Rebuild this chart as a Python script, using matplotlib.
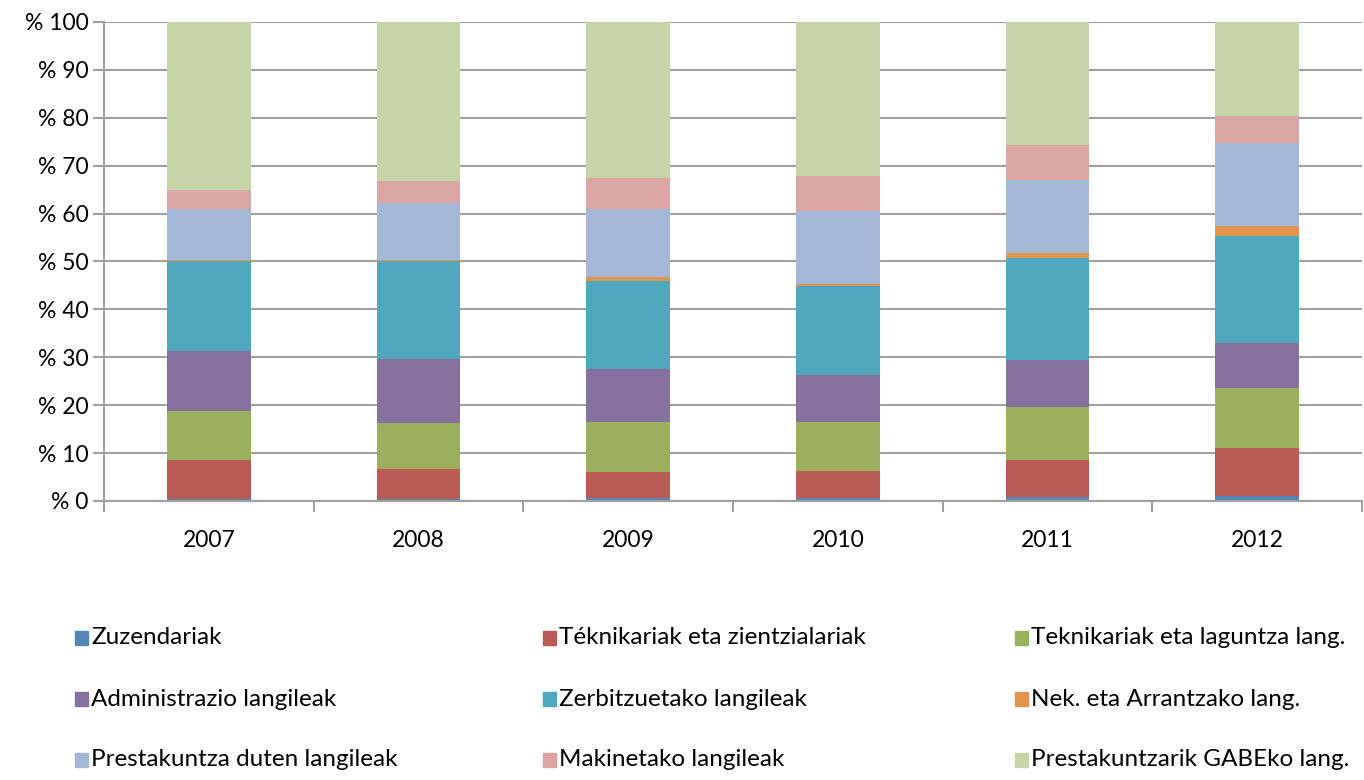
import numpy as np
import matplotlib.pyplot as plt
from matplotlib.patches import Rectangle

plt.rcParams['font.family'] = ['Lato', 'DejaVu Sans']

years = ['2007', '2008', '2009', '2010', '2011', '2012']

labels = ['Zuzendariak', 'Téknikariak eta zientzialariak', 'Teknikariak eta laguntza lang.',
          'Administrazio langileak', 'Zerbitzuetako langileak', 'Nek. eta Arrantzako lang.',
          'Prestakuntza duten langileak', 'Makinetako langileak', 'Prestakuntzarik GABEko lang.']

# percentage share per group
zuzendariak = [0.35, 0.4, 0.55, 0.7, 0.8, 1.0]
teknikariak_zient = [8.2, 6.3, 5.5, 5.56, 7.75, 10.0]
teknikariak_lag = [10.25, 9.6, 10.45, 10.24, 11.05, 12.55]
administrazio = [12.5, 13.3, 11.0, 9.8, 9.9, 9.4]
zerbitzuetako = [18.8, 20.4, 18.4, 18.6, 21.2, 22.3]
nekazaritza = [0.3, 0.35, 0.8, 0.4, 1.0, 2.1]
prestakuntza = [10.5, 11.85, 14.2, 15.2, 15.3, 17.3]
makinetako = [4.0, 4.6, 6.5, 7.3, 7.3, 5.8]
gabe = [35.1, 33.2, 32.6, 32.2, 25.7, 19.5]

series = [zuzendariak, teknikariak_zient, teknikariak_lag, administrazio,
          zerbitzuetako, nekazaritza, prestakuntza, makinetako, gabe]
colors = ['#5585B5', '#BA5C55', '#9BB05E', '#86709E', '#50A8BE',
          '#E2954E', '#A4B7D7', '#DBA5A4', '#C6D5A7']

fig = plt.figure(figsize=(13.64, 7.8), dpi=100)
ax = fig.add_axes([0.0762, 0.3577, 0.9223, 0.6141])

x = np.arange(len(years))
bottom = np.zeros(len(years))
for vals, col in zip(series, colors):
    ax.bar(x, vals, width=0.4, bottom=bottom, color=col, zorder=3)
    bottom += np.array(vals)

ax.set_xlim(-0.5, 5.5)
ax.set_ylim(0, 100)
ax.set_yticks(np.arange(0, 101, 10))
ax.set_yticklabels(['% ' + str(v) for v in range(0, 101, 10)], fontsize=16.5)
ax.set_xticks(np.arange(-0.5, 6, 1))
ax.set_xticklabels([])
ax.set_xticks(x, minor=True)
ax.set_xticklabels(years, minor=True, fontsize=16.5)
ax.tick_params(axis='x', which='minor', length=0, pad=21)
ax.tick_params(axis='x', which='major', length=8, width=1.5, color='#A0A0A0')
ax.tick_params(axis='y', length=8, width=1.5, color='#A0A0A0', pad=3)
ax.yaxis.grid(True, color='#A0A0A0', linewidth=1.5, zorder=0)
for s in ['top', 'right']:
    ax.spines[s].set_visible(False)
for s in ['left', 'bottom']:
    ax.spines[s].set_color('#A0A0A0')
    ax.spines[s].set_linewidth(1.5)
    ax.spines[s].set_zorder(4)

# legend, three columns, row-major order
col_x = [75, 543, 1015]
row_y = [638, 699, 760]
W, H = 1364, 780
for i, (lab, col) in enumerate(zip(labels, colors)):
    cx = col_x[i % 3]
    cy = row_y[i // 3]
    fig.add_artist(Rectangle((cx / W, (H - cy - 7) / H), 13 / W, 14 / H,
                             transform=fig.transFigure, color=col))
    fig.text((cx + 16) / W, (H - cy) / H, lab, fontsize=17.5, va='center', ha='left')

fig.savefig('out.png', dpi=100)
